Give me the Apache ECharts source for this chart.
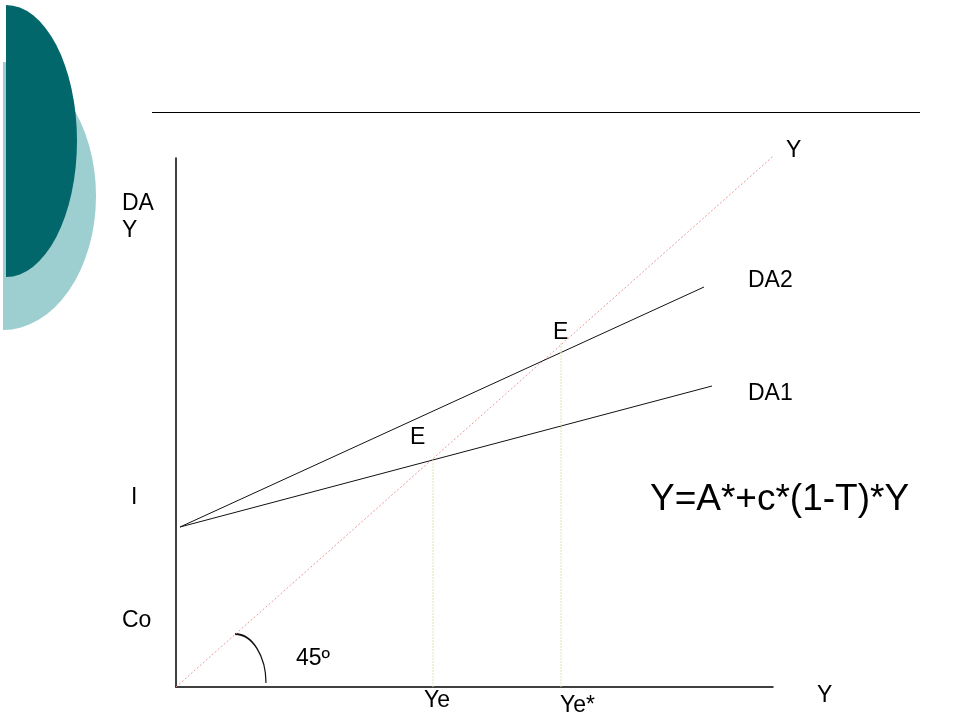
<!DOCTYPE html>
<html>
<head>
<meta charset="utf-8">
<script src="https://cdn.jsdelivr.net/npm/echarts@6/dist/echarts.min.js"></script>
<style>
  html, body { margin: 0; padding: 0; background: #fff; }
  #main { width: 960px; height: 720px; }
</style>
</head>
<body>
<div id="main"></div>
<script>
// datos (unidades del diagrama, origen en el cruce de los ejes)
const line45 = [[0, 0], [603, 536]];
const da1 = [[4, 160], [536, 301]];
const da2 = [[4, 160], [528, 400]];
const ye = [[257, 0], [257, 227]];
const yeStar = [[385, 0], [385, 344]];
const arc45 = [[59, 4, 31, 49]]; // centro x, centro y, radio x, radio y (cuarto de elipse)

const font = 'Liberation Sans, Arial, sans-serif';

function txt(x, y, s, size) {
  return {
    type: 'text', left: x, top: y,
    style: { text: s, font: (size || 23) + 'px ' + font, fill: '#000', lineHeight: 27 }
  };
}

function drawDiagram() {
  let myChart = echarts.init(document.getElementById('main'));
  let option = {
    animation: false,
    grid: { left: 176, top: 158, width: 597, height: 529 },
    xAxis: {
      type: 'value', min: 0, max: 597,
      axisLine: { show: true, onZero: false, lineStyle: { color: '#000', width: 1.5 } },
      axisTick: { show: false }, axisLabel: { show: false }, splitLine: { show: false }
    },
    yAxis: {
      type: 'value', min: 0, max: 529,
      axisLine: { show: true, onZero: false, lineStyle: { color: '#000', width: 1.5 } },
      axisTick: { show: false }, axisLabel: { show: false }, splitLine: { show: false }
    },
    graphic: [
      // decoracion de la diapositiva
      {
        type: 'sector', x: 3, y: 196, scaleX: 93 / 134,
        shape: { cx: 0, cy: 0, r: 134, startAngle: -Math.PI / 2, endAngle: Math.PI / 2 },
        style: { fill: '#9dcfd0' }, z: 0
      },
      {
        type: 'sector', x: 6, y: 141, scaleX: 71 / 136,
        shape: { cx: 0, cy: 0, r: 136, startAngle: -Math.PI / 2, endAngle: Math.PI / 2 },
        style: { fill: '#02676a' }, z: 1
      },
      {
        type: 'line', shape: { x1: 152, y1: 112.5, x2: 920, y2: 112.5 },
        style: { stroke: '#000', lineWidth: 1.2 }
      },
      txt(122, 190, 'DA\nY'),
      txt(131, 484, 'I'),
      txt(122, 607, 'Co'),
      txt(296, 645, '45º'),
      txt(786, 137, 'Y'),
      txt(748, 267, 'DA2'),
      txt(748, 380, 'DA1'),
      txt(553, 319, 'E'),
      txt(410, 424, 'E'),
      txt(424, 687, 'Ye'),
      txt(560, 692, 'Ye*'),
      txt(817, 682, 'Y'),
      txt(650, 481, 'Y=A*+c*(1-T)*Y', 37)
    ],
    series: [
      {
        name: 'Y', type: 'line', data: line45, symbol: 'none', clip: false,
        lineStyle: { color: '#e89a9a', width: 1, type: [2, 2] }
      },
      {
        name: 'DA1', type: 'line', data: da1, symbol: 'none', clip: false,
        lineStyle: { color: '#111', width: 1 }
      },
      {
        name: 'DA2', type: 'line', data: da2, symbol: 'none', clip: false,
        lineStyle: { color: '#111', width: 1 }
      },
      {
        name: 'Ye', type: 'line', data: ye, symbol: 'none',
        lineStyle: { color: '#e4e4b8', width: 1, type: [2, 1] }
      },
      {
        name: 'Ye*', type: 'line', data: yeStar, symbol: 'none',
        lineStyle: { color: '#e4e4b8', width: 1, type: [2, 1] }
      },
      {
        name: '45', type: 'custom', data: arc45,
        renderItem: function (params, api) {
          let c = api.coord([api.value(0), api.value(1)]);
          let rx = api.size([api.value(2), 0])[0];
          let ry = api.size([0, api.value(3)])[1];
          return {
            type: 'arc',
            x: c[0], y: c[1], scaleY: ry / rx,
            shape: { cx: 0, cy: 0, r: rx, startAngle: -Math.PI / 2, endAngle: 0, clockwise: true },
            style: { stroke: '#111', lineWidth: 1.2, fill: null, strokeNoScale: true }
          };
        }
      }
    ]
  };
  option && myChart.setOption(option);
  return myChart;
}

drawDiagram();
</script>
</body>
</html>
